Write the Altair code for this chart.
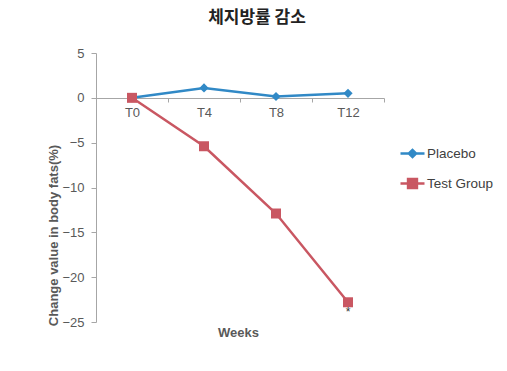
import altair as alt
import pandas as pd

weeks = ["T0", "T4", "T8", "T12"]
placebo = [0.0, 1.1, 0.15, 0.5]
test_group = [0.0, -5.4, -12.9, -22.8]
series_names = ["Placebo", "Test Group"]
series_colors = ["#3189c6", "#c95762"]
legend_paths = [
    "M-1,0L1,0M-0.3,0L0,-0.3L0.3,0L0,0.3Z",
    "M-1,0L1,0M-0.37,-0.37L0.37,-0.37L0.37,0.37L-0.37,0.37Z",
]
y_ticks = [5, 0, -5, -10, -15, -20, -25]
star_week = ["T12"]
star_value = [-22.8]
star_text = ["*"]

df = pd.DataFrame({
    "week": weeks * 2,
    "value": placebo + test_group,
    "series": [series_names[0]] * len(weeks) + [series_names[1]] * len(weeks),
})
star_df = pd.DataFrame({"week": star_week, "value": star_value, "text": star_text})

FONT = "Liberation Sans"
GRAY = "#595959"
AXISC = "#a6a6a6"

x = alt.X(
    "week:N",
    sort=weeks,
    scale=alt.Scale(type="band", domain=weeks, paddingInner=0, paddingOuter=0),
    axis=alt.Axis(
        title="Weeks", offset=-224, tickBand="extent", labelAngle=0, grid=False,
        domainColor=AXISC, tickColor=AXISC, tickSize=4, labelPadding=4,
        labelFont=FONT, labelFontSize=13, labelColor=GRAY,
        titleFont=FONT, titleFontSize=13, titleFontWeight="bold", titleColor=GRAY,
        titleX=142, titleY=234, titleBaseline="middle", titleAlign="center",
    ),
)
y = alt.Y(
    "value:Q",
    scale=alt.Scale(domain=[-25, 5], nice=False, zero=False),
    axis=alt.Axis(
        title="Change value in body fats(%)", values=y_ticks, grid=False,
        domainColor=AXISC, tickColor=AXISC, tickSize=5, labelPadding=7,
        labelFont=FONT, labelFontSize=13, labelColor=GRAY,
        titleFont=FONT, titleFontSize=13, titleFontWeight="bold", titleColor=GRAY,
        titleX=-43, titleY=182, titleAlign="center", titleBaseline="middle", titleAngle=-90,
    ),
)

color_scale = alt.Scale(domain=series_names, range=series_colors)
base = alt.Chart(df)

lines = base.mark_line(strokeWidth=2.5).encode(
    x=x, y=y, color=alt.Color("series:N", scale=color_scale, legend=None)
)
pts_placebo = base.transform_filter(alt.datum.series == series_names[0]).mark_point(
    shape="diamond", filled=True, size=85, opacity=1
).encode(x=x, y=y, color=alt.Color("series:N", scale=color_scale, legend=None))
pts_test = base.transform_filter(alt.datum.series == series_names[1]).mark_point(
    shape="square", filled=True, size=100, opacity=1
).encode(x=x, y=y, color=alt.Color("series:N", scale=color_scale, legend=None))

leg = alt.Legend(
    title=None, orient="none", legendX=303, legendY=87, rowPadding=7,
    labelFont=FONT, labelFontSize=13.5, labelColor="#404040", labelOffset=1,
    symbolSize=576, symbolStrokeWidth=2.5, symbolOpacity=1,
)
legend_layer = base.mark_point(
    filled=True, size=576, strokeWidth=2.5, opacity=0
).encode(
    x=x, y=y,
    fill=alt.Fill("series:N", scale=alt.Scale(domain=series_names, range=series_colors), legend=leg),
    stroke=alt.Stroke("series:N", scale=alt.Scale(domain=series_names, range=series_colors), legend=leg),
    shape=alt.Shape("series:N", scale=alt.Scale(domain=series_names, range=legend_paths), legend=leg),
)

star = alt.Chart(star_df).mark_text(
    font=FONT, fontSize=12, color="#333333", dy=10, baseline="middle"
).encode(x=x, y=y, text="text:N")

chart = alt.layer(legend_layer, lines, pts_placebo, pts_test, star).properties(
    width=288, height=269,
    autosize=alt.AutoSizeParams(type="none"),
    padding={"left": 88, "top": 45, "right": 115, "bottom": 41},
    title=alt.Title(
        "체지방률 감소", font="Noto Sans CJK KR", fontSize=17, fontWeight="bold",
        anchor="middle", dx=17, offset=20, color="#222222",
    ),
).configure(background="white").configure_view(stroke=None)

chart.save("out.html", embed_options={"renderer": "svg", "actions": False})
